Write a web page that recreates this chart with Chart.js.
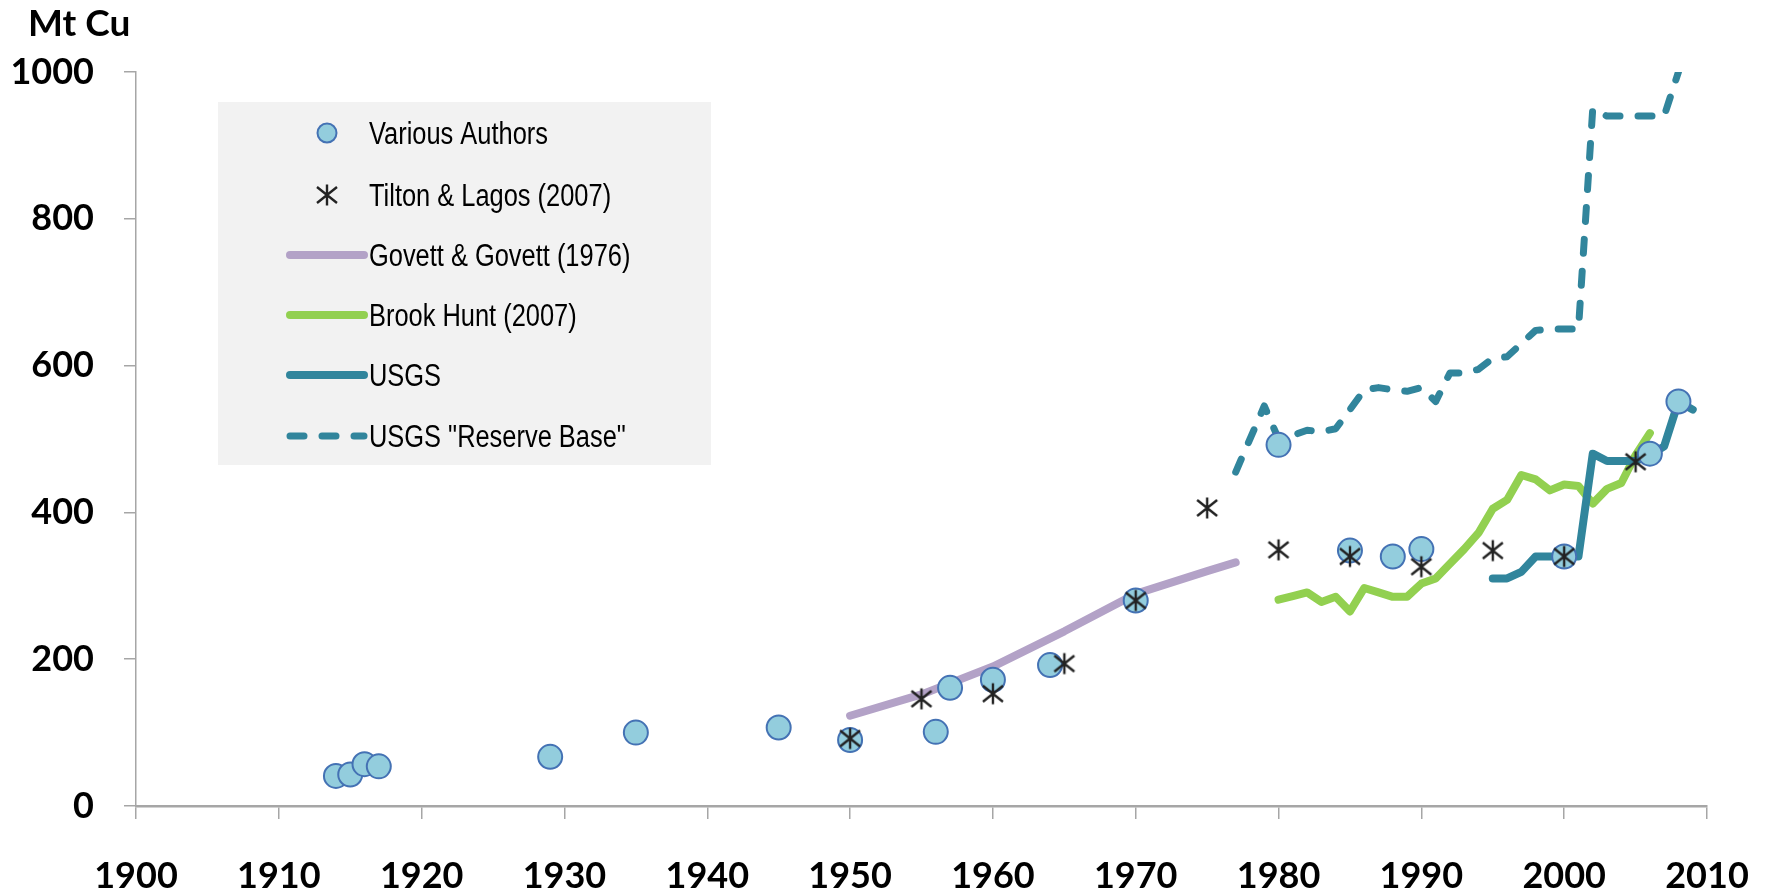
<!DOCTYPE html>
<html><head><meta charset="utf-8">
<script src="https://cdn.jsdelivr.net/npm/chart.js@4.4.1/dist/chart.umd.min.js"></script>
<style>html,body{margin:0;padding:0;background:#fff;}#wrap{width:1765px;height:894px;position:relative;}canvas{display:block;}</style>
</head><body><div id="wrap"><canvas id="c" width="1765" height="894"></canvas></div>
<script>
const seriesNames = ['Various Authors', 'Tilton & Lagos (2007)', 'Govett & Govett (1976)', 'Brook Hunt (2007)', 'USGS', 'USGS "Reserve Base"'];
const yAxisTitle = 'Mt Cu';

const variousYears  = [1914, 1915, 1916, 1917, 1929, 1935, 1945, 1950, 1956, 1957, 1960, 1964, 1970, 1980, 1985, 1988, 1990, 2000, 2006, 2008];
const variousValues = [41, 43, 57, 54, 67, 100, 107, 90, 101, 161, 172, 192, 280, 492, 348, 340, 350, 340, 480, 551];

const tiltonYears  = [1950, 1955, 1960, 1965, 1970, 1975, 1980, 1985, 1990, 1995, 2000, 2005];
const tiltonValues = [92, 146, 153, 194, 280, 406, 349, 340, 326, 348, 340, 469];

const govettYears  = [1950, 1955, 1960, 1965, 1970, 1975, 1977];
const govettValues = [123, 152, 190, 238, 289, 320, 332];

const brookYears  = [1980, 1981, 1982, 1983, 1984, 1985, 1986, 1987, 1988, 1989, 1990, 1991, 1992, 1993, 1994, 1995, 1996, 1997, 1998, 1999, 2000, 2001, 2002, 2003, 2004, 2005, 2006];
const brookValues = [281, 286, 291, 278, 285, 265, 297, 291, 285, 285, 303, 310, 330, 350, 372, 405, 417, 451, 445, 430, 438, 436, 412, 432, 440, 478, 508];

const usgsYears  = [1995, 1996, 1997, 1998, 1999, 2000, 2001, 2002, 2003, 2004, 2005, 2006, 2007, 2008, 2009];
const usgsValues = [310, 310, 319, 340, 340, 340, 340, 480, 470, 470, 470, 478, 490, 551, 540];

const reserveYears  = [1977, 1979, 1980, 1981, 1982, 1983, 1984, 1985, 1986, 1987, 1988, 1989, 1990, 1991, 1992, 1993, 1994, 1995, 1996, 1997, 1998, 1999, 2000, 2001, 2002, 2003, 2004, 2005, 2006, 2007, 2008];
const reserveValues = [455, 545, 500, 505, 512, 510, 514, 540, 567, 570, 567, 565, 570, 551, 590, 590, 595, 610, 612, 630, 648, 650, 650, 650, 950, 940, 940, 940, 940, 940, 1000];

const xMin = 1900, xMax = 2010, xStep = 10;
const yMin = 0, yMax = 1000, yStep = 200;

function pts(xs, ys) { return xs.map((x, i) => ({ x: x, y: ys[i] })); }

function makeAsterisk() {
  const s = 24, c = document.createElement('canvas');
  c.width = s; c.height = s;
  const g = c.getContext('2d');
  g.strokeStyle = '#222'; g.lineWidth = 2.4; g.lineCap = 'butt';
  g.beginPath();
  g.moveTo(12, 1.5); g.lineTo(12, 22.5);
  g.moveTo(2, 4); g.lineTo(22, 20);
  g.moveTo(2, 20); g.lineTo(22, 4);
  g.stroke();
  return c;
}
const asterisk = makeAsterisk();

const TEAL = '#31859C';
const datasets = [
  { label: seriesNames[0], data: pts(variousYears, variousValues), showLine: false,
    pointRadius: 12, pointBackgroundColor: '#93CDDD', pointBorderColor: '#4472B4', pointBorderWidth: 2, order: 1 },
  { label: seriesNames[1], data: pts(tiltonYears, tiltonValues), showLine: false,
    pointStyle: asterisk, pointRadius: 12, order: 0 },
  { label: seriesNames[2], data: pts(govettYears, govettValues), showLine: true, pointRadius: 0,
    borderColor: '#B3A2C7', borderWidth: 8, borderCapStyle: 'round', borderJoinStyle: 'round', order: 5 },
  { label: seriesNames[3], data: pts(brookYears, brookValues), showLine: true, pointRadius: 0,
    borderColor: '#92D050', borderWidth: 8, borderCapStyle: 'round', borderJoinStyle: 'round', order: 4 },
  { label: seriesNames[4], data: pts(usgsYears, usgsValues), showLine: true, pointRadius: 0,
    borderColor: TEAL, borderWidth: 8, borderCapStyle: 'round', borderJoinStyle: 'round', order: 3 },
  { label: seriesNames[5], data: pts(reserveYears, reserveValues), showLine: true, pointRadius: 0,
    borderColor: TEAL, borderWidth: 7, borderDash: [14, 18], borderCapStyle: 'round', borderJoinStyle: 'round', order: 2 }
];

const LEGEND_FONT = '31px "Liberation Sans", Arial, sans-serif';
const NARROW = 0.82;
const legendPlugin = {
  id: 'boxLegend',
  beforeDatasetsDraw(chart) {
    const ctx = chart.ctx;
    ctx.save();
    ctx.fillStyle = '#F2F2F2';
    ctx.fillRect(218, 102, 493, 363);
    const rows = [133, 195, 255, 315, 375, 436];
    const x0 = 290, x1 = 364, mx = 327, tx = 369;
    chart.data.datasets.forEach((ds, i) => {
      const y = rows[i];
      if (ds.showLine) {
        ctx.save();
        ctx.strokeStyle = ds.borderColor; ctx.lineWidth = ds.borderWidth;
        ctx.lineCap = 'round';
        ctx.setLineDash(ds.borderDash || []);
        ctx.beginPath(); ctx.moveTo(x0, y); ctx.lineTo(x1, y); ctx.stroke();
        ctx.restore();
      } else if (ds.pointStyle && typeof ds.pointStyle === 'object') {
        ctx.drawImage(ds.pointStyle, mx - ds.pointStyle.width / 2, y - ds.pointStyle.height / 2);
      } else {
        ctx.beginPath(); ctx.arc(mx, y, 9.5, 0, Math.PI * 2);
        ctx.fillStyle = ds.pointBackgroundColor; ctx.fill();
        ctx.lineWidth = 2; ctx.strokeStyle = ds.pointBorderColor; ctx.stroke();
      }
      ctx.save();
      ctx.translate(tx, y + 11);
      ctx.scale(NARROW, 1);
      ctx.fillStyle = '#000';
      ctx.font = LEGEND_FONT;
      ctx.textBaseline = 'alphabetic';
      ctx.fillText(ds.label, 0, 0);
      ctx.restore();
    });
    ctx.restore();
  },
  afterDraw(chart) {
    const ctx = chart.ctx;
    ctx.save();
    ctx.fillStyle = '#000';
    ctx.font = 'bold 37px Lato, "Open Sans", sans-serif';
    ctx.textBaseline = 'alphabetic';
    ctx.fillText(yAxisTitle, 28, 36);
    ctx.restore();
  }
};

const tickFont = { family: 'Lato, "Open Sans", sans-serif', size: 36, weight: 'bold' };
new Chart(document.getElementById('c'), {
  type: 'scatter',
  data: { datasets: datasets },
  options: {
    responsive: false, animation: false, events: [],
    layout: { padding: { top: 72, right: 58, left: 0, bottom: 0 } },
    plugins: { legend: { display: false }, tooltip: { enabled: false } },
    scales: {
      x: {
        type: 'linear', min: xMin, max: xMax,
        afterFit(s) { s.height = 88; s.paddingLeft = 0; s.paddingRight = 0; },
        ticks: { stepSize: xStep, color: '#000', font: tickFont, padding: 36, callback: v => String(v) },
        grid: { drawOnChartArea: false, drawTicks: true, tickLength: 13, color: '#A6A6A6', lineWidth: 1.5 },
        border: { color: '#A6A6A6', width: 2.5 }
      },
      y: {
        type: 'linear', min: yMin, max: yMax,
        afterFit(s) { s.width = 136; s.paddingTop = 0; s.paddingBottom = 0; },
        ticks: { stepSize: yStep, color: '#000', font: tickFont, padding: 30, callback: v => String(v) },
        grid: { drawOnChartArea: false, drawTicks: true, tickLength: 12, color: '#A6A6A6', lineWidth: 1.5 },
        border: { color: '#A6A6A6', width: 1.5 }
      }
    }
  },
  plugins: [legendPlugin]
});
</script>
</body></html>
